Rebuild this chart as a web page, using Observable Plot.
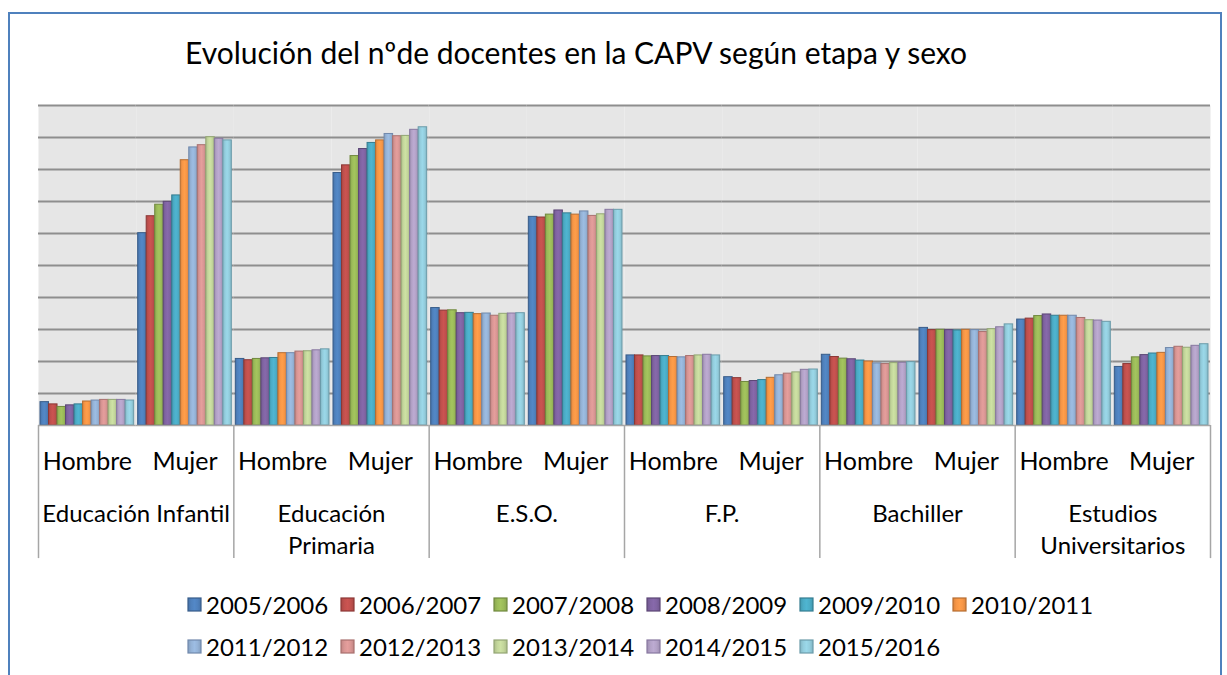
<!DOCTYPE html>
<html><head><meta charset="utf-8">
<script src="https://cdn.jsdelivr.net/npm/d3@7"></script>
<script src="https://cdn.jsdelivr.net/npm/@observablehq/plot@0.6"></script>
<style>
body{margin:0;background:#fff;font-family:Lato,"Open Sans",sans-serif;color:#000;}
#wrap{position:relative;width:1227px;height:675px;overflow:hidden;}
#border{position:absolute;left:8px;top:12px;width:1214px;height:720px;border:2px solid #4f81bd;box-sizing:border-box;}
#title{position:absolute;left:185px;top:35px;font-size:30px;line-height:34px;white-space:nowrap;}
#chart{position:absolute;left:0;top:0;}
#legend{position:absolute;left:187px;top:583px;width:1000px;}
.row{height:42px;display:flex;align-items:center;}
.item{width:153px;display:flex;align-items:center;font-size:24px;white-space:nowrap;}
.item svg{margin-right:4px;flex:none;}
</style></head>
<body>
<svg width="0" height="0" style="position:absolute"><defs id="defs"></defs></svg>
<div id="wrap">
  <div id="border"></div>
  <div id="title">Evolución del nºde docentes en la CAPV según etapa y sexo</div>
  <div id="chart"></div>
  <div id="legend"></div>
</div>
<script>
const etapas = ["Educación Infantil","Educación Primaria","E.S.O.","F.P.","Bachiller","Estudios Universitarios"];
const etiquetasEtapa = ["Educación Infantil","Educación\nPrimaria","E.S.O.","F.P.","Bachiller","Estudios\nUniversitarios"];
const sexos = ["Hombre","Mujer"];
const cursos = ["2005/2006","2006/2007","2007/2008","2008/2009","2009/2010","2010/2011","2011/2012","2012/2013","2013/2014","2014/2015","2015/2016"];

const infantilHombre = [730, 660, 580, 630, 660, 750, 780, 800, 800, 800, 780];
const infantilMujer  = [6010, 6540, 6900, 6990, 7190, 8290, 8690, 8760, 9010, 8960, 8910];
const primariaHombre = [2080, 2040, 2080, 2100, 2110, 2260, 2260, 2310, 2320, 2350, 2380];
const primariaMujer  = [7890, 8130, 8420, 8640, 8830, 8910, 9110, 9040, 9050, 9240, 9320];
const esoHombre      = [3670, 3590, 3600, 3510, 3520, 3480, 3500, 3430, 3490, 3500, 3510];
const esoMujer       = [6520, 6500, 6590, 6720, 6630, 6590, 6690, 6550, 6600, 6740, 6740];
const fpHombre       = [2190, 2190, 2160, 2170, 2170, 2140, 2130, 2170, 2190, 2210, 2190];
const fpMujer        = [1510, 1480, 1360, 1390, 1420, 1490, 1570, 1620, 1660, 1740, 1750];
const bachHombre     = [2210, 2140, 2090, 2070, 2030, 2000, 1940, 1920, 1950, 1960, 1980];
const bachMujer      = [3050, 2980, 2990, 2980, 2970, 2990, 2980, 2920, 3010, 3070, 3160];
const univHombre     = [3310, 3340, 3420, 3470, 3430, 3430, 3430, 3360, 3290, 3280, 3240];
const univMujer      = [1830, 1920, 2130, 2200, 2250, 2270, 2420, 2460, 2430, 2490, 2540];

const colores = ["#4F81BD","#C0504D","#9BBB59","#8064A2","#4BACC6","#F79646","#95B3D7","#D99694","#C3D69B","#B3A2C7","#93CDDD"];
const bordes  = ["#385D8A","#8C3836","#71893F","#5C4776","#357D91","#B66D31","#7189AC","#A9716F","#93A674","#8878A0","#6C9CAA"];

const serieValores = [
  [infantilHombre, infantilMujer],
  [primariaHombre, primariaMujer],
  [esoHombre, esoMujer],
  [fpHombre, fpMujer],
  [bachHombre, bachMujer],
  [univHombre, univMujer]
];

// gradients
const defs = document.getElementById("defs");
colores.forEach((c, i) => {
  const dark = d3.color(c).darker(0.35).formatHex();
  const light = d3.color(c).brighter(0.15).formatHex();
  defs.insertAdjacentHTML("beforeend",
    `<linearGradient id="g${i}" x1="0" x2="1" y1="0" y2="0">
      <stop offset="0" stop-color="${dark}"/>
      <stop offset="0.25" stop-color="${c}"/>
      <stop offset="0.5" stop-color="${light}"/>
      <stop offset="0.75" stop-color="${c}"/>
      <stop offset="1" stop-color="${dark}"/>
    </linearGradient>`);
});

const clusters = [];
const rows = [];
etapas.forEach((e, gi) => sexos.forEach((s, si) => {
  const key = e + "|" + s;
  clusters.push({key, etapa: e, sexo: s});
  cursos.forEach((c, k) => rows.push({key, etapa: e, sexo: s, curso: c, valor: serieValores[gi][si][k]}));
}));
const clusterKeys = clusters.map(d => d.key);
const grupos = etapas.map((e, i) => ({key: e + "|Hombre", label: etiquetasEtapa[i]}));

const W = 1227, mL = 38, mR = 17;
const pIn = 0.041, pOut = 0.0205;
const band = d3.scaleBand(clusterKeys, [mL, W - mR]).paddingInner(pIn).paddingOuter(pOut);
const bw = band.bandwidth() / cursos.length;
const half = band.step() * pIn / 2;
const divisores = [
  ...etapas.map(e => ({key: e + "|Hombre", curso: cursos[0], dx: -(bw / 2 + half)})),
  {key: etapas[etapas.length - 1] + "|Mujer", curso: cursos[cursos.length - 1], dx: bw / 2 + half}
];

const barras = cursos.map((c, k) => Plot.barY(rows.filter(d => d.curso === c), {
  fx: "key", x: "curso", y: "valor", fill: `url(#g${k})`, stroke: bordes[k], strokeWidth: 1
}));

const plot = Plot.plot({
  width: W, height: 570,
  marginLeft: mL, marginRight: mR, marginTop: 105, marginBottom: 145,
  style: {fontFamily: "Lato, 'Open Sans', sans-serif", fontSize: "24px", background: "transparent", color: "#000"},
  fx: {domain: clusterKeys, paddingInner: pIn, paddingOuter: pOut, round: false, axis: null},
  x: {domain: cursos, padding: 0, round: false, axis: null},
  y: {domain: [0, 10000], axis: null},
  marks: [
    Plot.frame({fill: "#e6e6e6", stroke: "none", insetLeft: -half, insetRight: -half}),
    Plot.ruleY(d3.range(1000, 10001, 1000), {stroke: "#8e8e8e", strokeWidth: 2, insetLeft: -half, insetRight: -half}),
    ...barras,
    Plot.ruleY([0], {stroke: "#a6a6a6", strokeWidth: 1.5, insetLeft: -half, insetRight: -half}),
    Plot.text(clusters, {fx: "key", text: "sexo", frameAnchor: "bottom", lineAnchor: "middle", dy: 36, fontSize: 25}),
    Plot.text(grupos, {fx: "key", text: "label", frameAnchor: "bottom-right", textAnchor: "middle", lineAnchor: "top", dx: half, dy: 74, lineHeight: 1.33, fontSize: 24}),
    ...divisores.map(d => Plot.ruleX([d], {fx: "key", x: "curso", y1: 0, y2: -4160, dx: d.dx, stroke: "#a6a6a6", strokeWidth: 1.5}))
  ]
});
document.getElementById("chart").appendChild(plot);

// legend
const legend = document.getElementById("legend");
[cursos.slice(0, 6), cursos.slice(6)].forEach((fila, r) => {
  const row = document.createElement("div");
  row.className = "row";
  fila.forEach((c, j) => {
    const k = r * 6 + j;
    const it = document.createElement("div");
    it.className = "item";
    it.innerHTML = `<svg width="15" height="15"><rect x="1" y="1" width="13" height="13" fill="url(#g${k})" stroke="${bordes[k]}" stroke-width="1.2"/></svg><span>${c}</span>`;
    row.appendChild(it);
  });
  legend.appendChild(row);
});
</script>
</body></html>
